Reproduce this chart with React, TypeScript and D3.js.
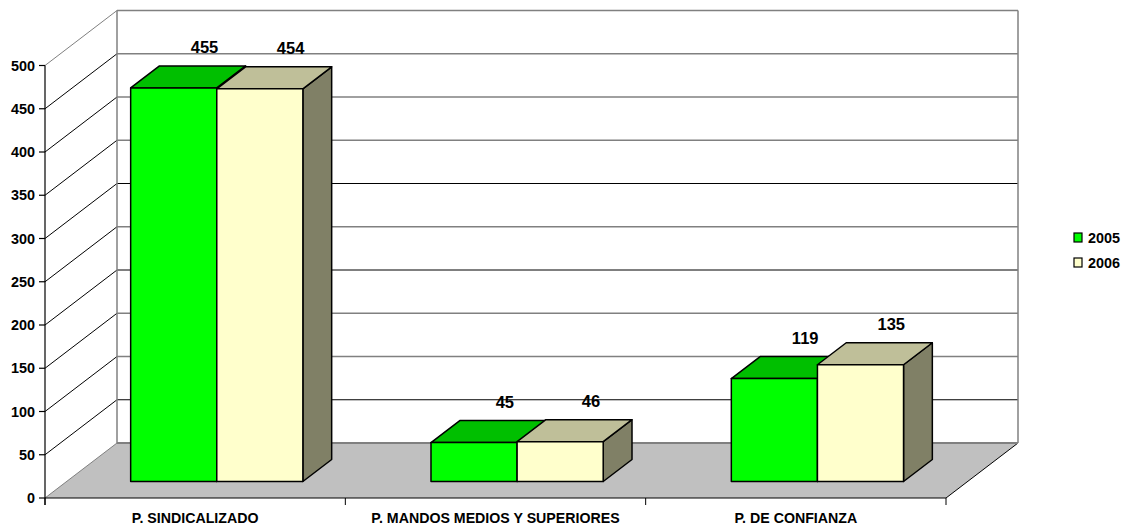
import React from "react";
import * as d3 from "d3";

const categories = ["P. SINDICALIZADO", "P. MANDOS MEDIOS Y SUPERIORES", "P. DE CONFIANZA"];
const seriesNames = ["2005", "2006"];
const values2005 = [455, 45, 119];
const values2006 = [454, 46, 135];
const yTicks = [0, 50, 100, 150, 200, 250, 300, 350, 400, 450, 500];
// gridlines that come out black in the original, the rest are grey
const blackGrid = [50, 200, 300];

const faceFront = ["#00ff00", "#ffffcc"];
const faceTop = ["#00bf00", "#bfbf99"];
const faceSide = ["#00bf00", "#808066"];

const font = "'Liberation Sans', Arial, sans-serif";

const x = d3.scaleBand<string>().domain(categories).range([45, 946]).paddingInner(0).paddingOuter(0);
const y = d3.scaleLinear().domain([0, 500]).range([498, 65.5]);
// depth goes from 0 (front edge of floor) to 1 (back wall)
const depthX = d3.scaleLinear().domain([0, 1]).range([0, 72]);
const depthY = d3.scaleLinear().domain([0, 1]).range([0, -55]);

const px = (xv: number, d: number) => xv + depthX(d);
const py = (v: number, d: number) => y(v) + depthY(d);
const pts = (list: [number, number][]) => list.map((p) => p.join(",")).join(" ");

const barStart = 0.3;
const barEnd = 0.7;

export default function App() {
  const bw = x.bandwidth();
  const inner = d3.scaleBand<string>().domain(seriesNames).range([0, bw]).paddingOuter(0.744).paddingInner(0);
  const sw = inner.bandwidth();
  const series = [values2005, values2006];
  const xL = x.range()[0];
  const xR = x.range()[1];

  return (
    <svg width={1127} height={527} style={{ position: "absolute", left: 0, top: 0 }}>
      {/* floor */}
      <polygon
        points={pts([
          [px(xL, 0), py(0, 0)],
          [px(xR, 0), py(0, 0)],
          [px(xR, 1), py(0, 1)],
          [px(xL, 1), py(0, 1)],
        ])}
        fill="#c0c0c0"
      />
      <line x1={px(xR, 0)} y1={py(0, 0)} x2={px(xR, 1)} y2={py(0, 1)} stroke="#000" />

      {/* back wall grid and left wall diagonals */}
      {yTicks.map((t) => (
        <g key={t}>
          <line
            x1={px(xL, 1)}
            x2={px(xR, 1)}
            y1={py(t, 1)}
            y2={py(t, 1)}
            stroke={blackGrid.includes(t) ? "#000" : "#808080"}
            strokeWidth={t === 0 ? 2 : blackGrid.includes(t) ? 1 : 1.3}
          />
          <line
            x1={px(xL, 0)}
            y1={py(t, 0)}
            x2={px(xL, 1)}
            y2={py(t, 1)}
            stroke={t === 0 || t === 500 ? "#808080" : "#000"}
          />
        </g>
      ))}
      <line x1={px(xL, 1)} x2={px(xL, 1)} y1={py(0, 1)} y2={py(500, 1)} stroke="#808080" strokeWidth={1.5} />
      <line x1={px(xR, 1)} x2={px(xR, 1)} y1={py(0, 1)} y2={py(500, 1)} stroke="#808080" strokeWidth={1.5} />

      {/* bars */}
      {categories.map((c, ci) =>
        seriesNames.map((s, si) => {
          const v = series[si][ci];
          const left = (x(c) as number) + (inner(s) as number);
          const right = left + sw;
          const a = barStart;
          const b = barEnd;
          return (
            <g key={c + s} stroke="#000" strokeWidth={1.5} strokeLinejoin="round">
              <polygon
                points={pts([
                  [px(right, a), py(0, a)],
                  [px(right, b), py(0, b)],
                  [px(right, b), py(v, b)],
                  [px(right, a), py(v, a)],
                ])}
                fill={faceSide[si]}
              />
              <polygon
                points={pts([
                  [px(left, a), py(v, a)],
                  [px(right, a), py(v, a)],
                  [px(right, b), py(v, b)],
                  [px(left, b), py(v, b)],
                ])}
                fill={faceTop[si]}
              />
              <rect
                x={px(left, a)}
                y={py(v, a)}
                width={sw}
                height={py(0, a) - py(v, a)}
                fill={faceFront[si]}
              />
            </g>
          );
        })
      )}

      {/* value labels */}
      {categories.map((c, ci) =>
        seriesNames.map((s, si) => {
          const v = series[si][ci];
          const left = (x(c) as number) + (inner(s) as number);
          return (
            <text
              key={c + s}
              x={px(left + sw / 2, barEnd) + 2}
              y={py(v, barEnd) - 13}
              textAnchor="middle"
              fontFamily={font}
              fontWeight="bold"
              fontSize={16.5}
              fill="#000"
            >
              {v}
            </text>
          );
        })
      )}

      {/* y axis */}
      <line x1={xL} x2={xL} y1={y(500)} y2={y(0) + 7} stroke="#000" strokeWidth={1.2} />
      {yTicks.map((t) => (
        <g key={t}>
          <line x1={xL - 6} x2={xL} y1={y(t)} y2={y(t)} stroke="#000" strokeWidth={1.2} />
          <text
            x={35}
            y={y(t) + 5}
            textAnchor="end"
            fontFamily={font}
            fontWeight="bold"
            fontSize={14.4}
            fill="#000"
          >
            {t}
          </text>
        </g>
      ))}

      {/* x axis */}
      <line x1={xL} x2={xR} y1={y(0)} y2={y(0)} stroke="#000" strokeWidth={1.2} />
      {[...categories.map((c) => x(c) as number), xR].map((t) => (
        <line key={t} x1={t} x2={t} y1={y(0)} y2={y(0) + 7} stroke="#000" />
      ))}
      {categories.map((c) => (
        <text
          key={c}
          x={(x(c) as number) + bw / 2}
          y={523}
          textAnchor="middle"
          fontFamily={font}
          fontWeight="bold"
          fontSize={14.2}
          fill="#000"
        >
          {c}
        </text>
      ))}

      {/* legend */}
      {seriesNames.map((s, i) => (
        <g key={s}>
          <rect x={1074} y={233 + i * 25} width={8} height={9} fill={faceFront[i]} stroke="#000" strokeWidth={1.2} />
          <text x={1088} y={243 + i * 25} fontFamily={font} fontWeight="bold" fontSize={14.4} fill="#000">
            {s}
          </text>
        </g>
      ))}
    </svg>
  );
}
